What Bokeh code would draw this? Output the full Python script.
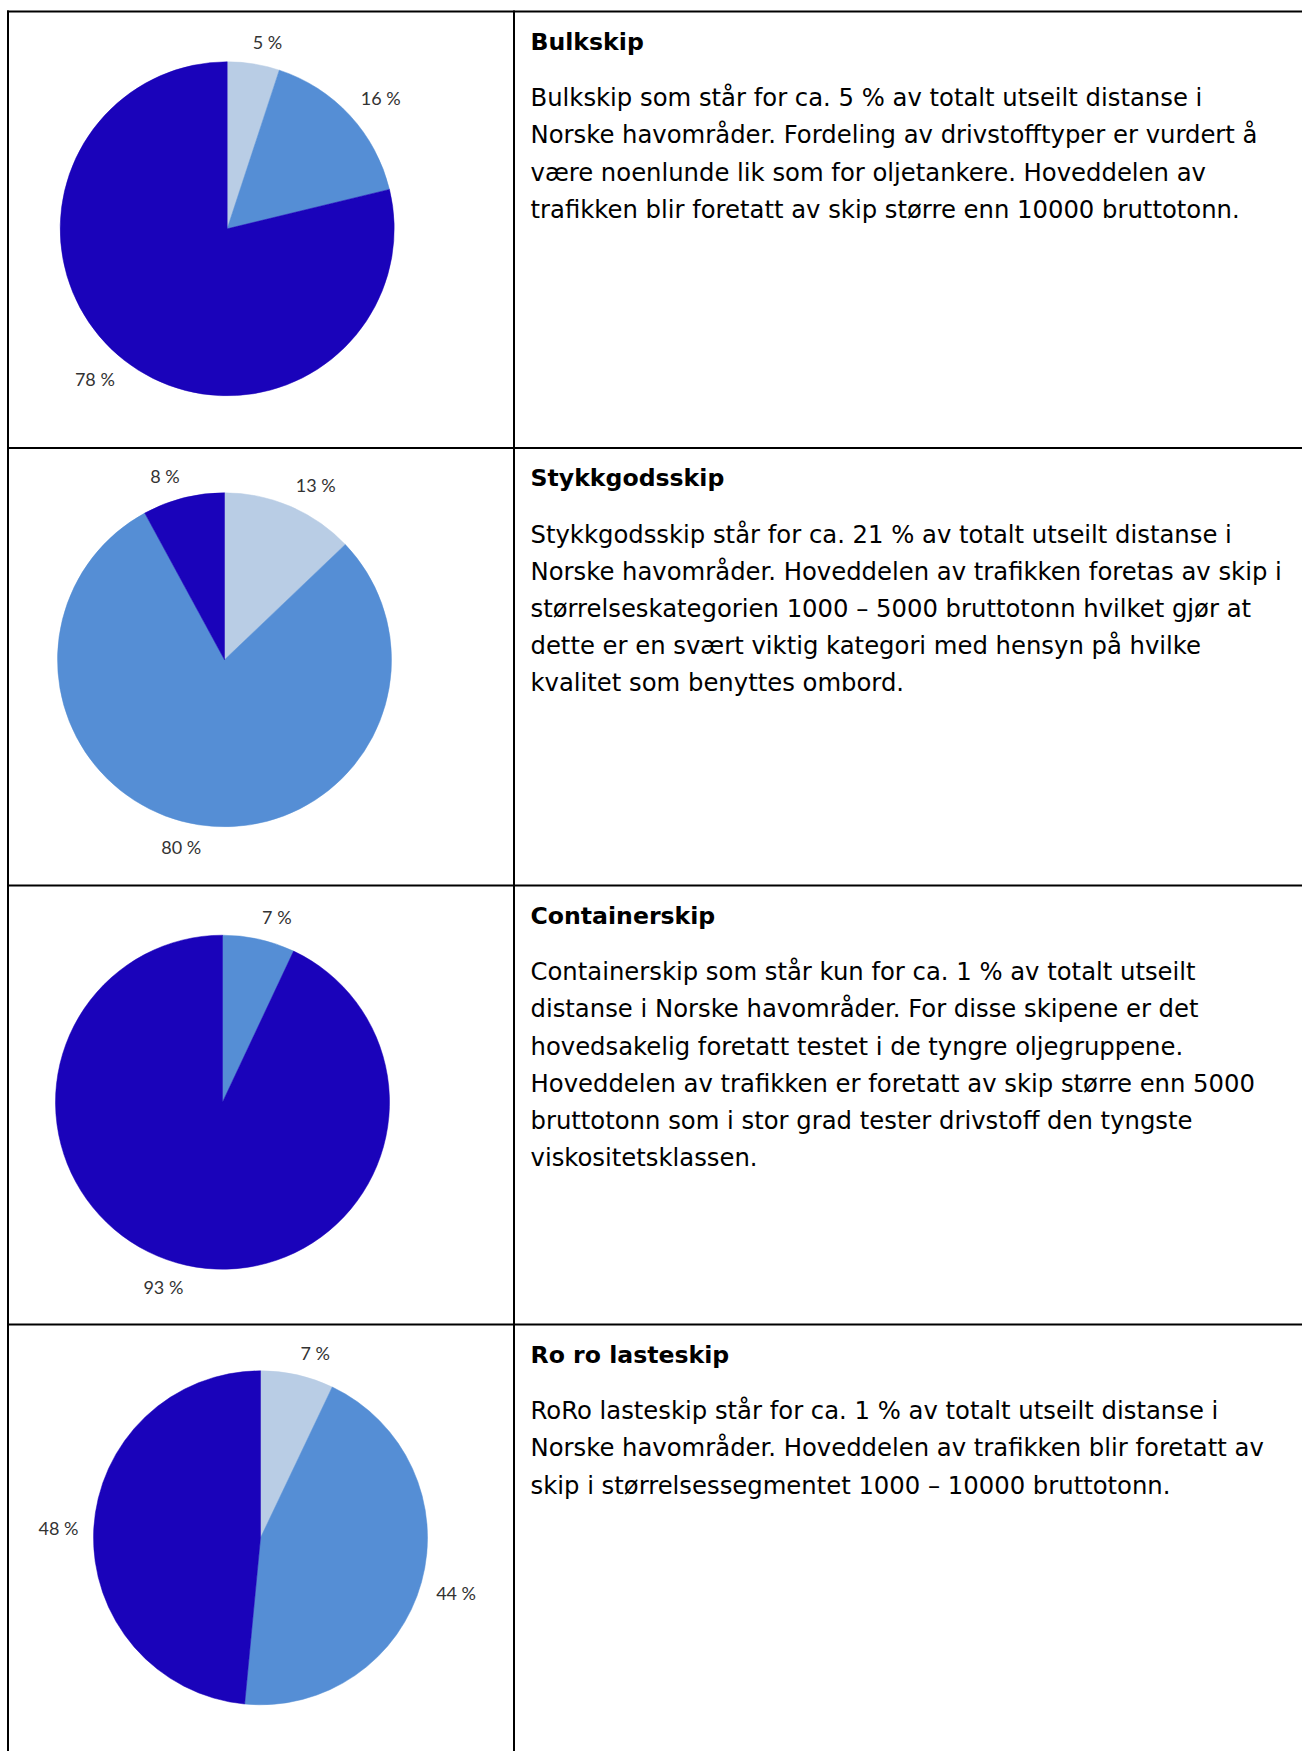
import math
from bokeh.plotting import figure
from bokeh.models import Range1d
from bokeh.embed import file_html
from bokeh.resources import INLINE
from bokeh.core.properties import value

# ---------------- data ----------------
ship_types = ["Bulkskip", "Stykkgodsskip", "Containerskip", "Ro ro lasteskip"]
fuel_groups = ["Gruppe 1", "Gruppe 2", "Gruppe 3"]  # light, mid, dark (clockwise from 12 o'clock)
bulk_share = [5, 16, 78]
stykkgods_share = [13, 80, 8]
container_share = [0, 7, 93]
roro_share = [7, 44, 48]
shares = [bulk_share, stykkgods_share, container_share, roro_share]

descriptions = [
    ["Bulkskip som står for ca. 5 % av totalt utseilt distanse i",
     "Norske havområder. Fordeling av drivstofftyper er vurdert å",
     "være noenlunde lik som for oljetankere. Hoveddelen av",
     "trafikken blir foretatt av skip større enn 10000 bruttotonn."],
    ["Stykkgodsskip står for ca. 21 % av totalt utseilt distanse i",
     "Norske havområder. Hoveddelen av trafikken foretas av skip i",
     "størrelseskategorien 1000 – 5000 bruttotonn hvilket gjør at",
     "dette er en svært viktig kategori med hensyn på hvilke",
     "kvalitet som benyttes ombord."],
    ["Containerskip som står kun for ca. 1 % av totalt utseilt",
     "distanse i Norske havområder. For disse skipene er det",
     "hovedsakelig foretatt testet i de tyngre oljegruppene.",
     "Hoveddelen av trafikken er foretatt av skip større enn 5000",
     "bruttotonn som i stor grad tester drivstoff den tyngste",
     "viskositetsklassen."],
    ["RoRo lasteskip står for ca. 1 % av totalt utseilt distanse i",
     "Norske havområder. Hoveddelen av trafikken blir foretatt av",
     "skip i størrelsessegmentet 1000 – 10000 bruttotonn."],
]

# ---------------- layout / style ----------------
W, H = 1302, 1751
colors = ["#B9CDE5", "#558ED5", "#1A03BA"]
row_tops = [11, 447.5, 885, 1324]
pie_centers = [(226.7, 228.3), (224, 659.3), (222, 1101.7), (260, 1537.3)]
R = 167
left_x, div_x = 7.5, 513.5
text_x = 530
title_dy, body_dy, line_gap = 30.2, 86.1, 37.2
label_gap = 16


def Y(sy):
    return H - sy


def clip1(t):
    return max(-1.0, min(1.0, t))


p = figure(width=W, height=H, x_range=Range1d(0, W), y_range=Range1d(0, H),
           output_backend="svg", toolbar_location=None, min_border=0,
           x_axis_type=None, y_axis_type=None, outline_line_color=None,
           background_fill_color="white", border_fill_color="white")

# table lines
xs0 = [left_x, div_x] + [left_x - 1] * len(row_tops)
xs1 = [left_x, div_x] + [W] * len(row_tops)
ys0 = [Y(row_tops[0] - 1), Y(row_tops[0] - 1)] + [Y(t) for t in row_tops]
ys1 = [Y(H + 5), Y(H + 5)] + [Y(t) for t in row_tops]
p.segment(x0=xs0, y0=ys0, x1=xs1, y1=ys1, line_color="black", line_width=2)

# pies
wx, wy, sa, ea, wc = [], [], [], [], []
lx, ly, lt = [], [], []
for (cx, cy), vals in zip(pie_centers, shares):
    total = float(sum(vals))
    cum = 0.0
    for v, col in zip(vals, colors):
        if v <= 0:
            continue
        f0, f1 = cum / total, (cum + v) / total
        cum += v
        wx.append(cx); wy.append(Y(cy))
        sa.append(math.pi / 2 - 2 * math.pi * f0)
        ea.append(math.pi / 2 - 2 * math.pi * f1)
        wc.append(col)
        th = 2 * math.pi * (f0 + f1) / 2
        ux, uy = math.sin(th), -math.cos(th)
        txt = f"{v} %"
        w, h = 9.6 * len(txt), 13
        px = cx + (R + label_gap) * ux + w / 2 * clip1(5 * ux)
        py = cy + (R + label_gap) * uy + h / 2 * clip1(5 * uy)
        lx.append(px); ly.append(Y(py)); lt.append(txt)

p.wedge(x=wx, y=wy, radius=R, start_angle=sa, end_angle=ea, direction="clock",
        fill_color=wc, line_color=wc, line_width=0.5)
p.text(x=lx, y=ly, text=lt, text_font=value("Lato"), text_font_size="18px",
       text_color="#333333", text_align="center", text_baseline="middle")

# titles
p.text(x=[text_x] * 4, y=[Y(t + title_dy) for t in row_tops], text=ship_types,
       text_font=value("DejaVu Sans"), text_font_style="bold", text_font_size="23.6px",
       text_color="black", text_baseline="alphabetic")

# body text
bx, by, bt = [], [], []
for t, lines in zip(row_tops, descriptions):
    for i, ln in enumerate(lines):
        bx.append(text_x); by.append(Y(t + body_dy + i * line_gap)); bt.append(ln)
p.text(x=bx, y=by, text=bt, text_font=value("DejaVu Sans"), text_font_size="24.3px",
       text_color="black", text_baseline="alphabetic")

open("out.html", "w").write(file_html(p, INLINE))
